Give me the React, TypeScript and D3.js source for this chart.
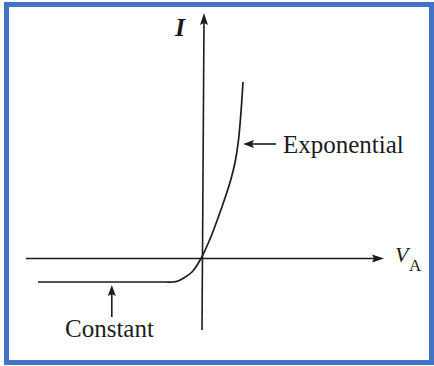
import React from "react";
import * as d3 from "d3";

// Diode characteristic: anode voltage V_A vs current I (arbitrary units)
const curveV = [-8.15, -1.8, -1.4, -1.15, -0.9, -0.45, 0, 0.45, 0.85, 1.2, 1.5, 1.725, 1.875, 2.0, 2.1];
const curveI = [-2.35, -2.35, -2.35, -2.25, -2.0, -1.35, 0, 1.95, 4.05, 6.05, 7.95, 9.85, 11.85, 14.65, 17.65];

// Axis extents in data units
const vAxisRange = [-8.75, 9.15];
const iAxisRange = [-7.15, 24.55];

// Annotation labels
const expLabel = "Exponential";
const constLabel = "Constant";
const expAnchor = { v: 2.05, i: 11.45 };
const constAnchor = { v: -4.46, i: -2.65 };

const W = 434;
const H = 366;

export default function App() {
  const x = d3.scaleLinear().domain([0, 1]).range([201, 221]);
  const y = d3.scaleLinear().domain([0, 1]).range([258.5, 248.5]);

  const pts: [number, number][] = curveV.map((v, k) => [x(v), y(curveI[k])]);
  const line = d3
    .line<[number, number]>()
    .x((d) => d[0])
    .y((d) => d[1])
    .curve(d3.curveCatmullRom.alpha(0.5));

  const ink = "#1c1c1c";
  const serif = "'Liberation Serif', 'DejaVu Serif', serif";

  const x0 = x(0);
  const y0 = y(0);
  const hx1 = x(vAxisRange[0]);
  const hx2 = x(vAxisRange[1]);
  const vy1 = y(iAxisRange[0]);
  const vy2 = y(iAxisRange[1]);

  const ex = x(expAnchor.v) + 1;
  const ey = y(expAnchor.i);
  const cx = x(constAnchor.v);
  const cy = y(constAnchor.i);

  return (
    <svg
      width={W}
      height={H}
      style={{ position: "absolute", left: 0, top: 0, background: "#ffffff" }}
    >
      {/* frame */}
      <rect x={6.5} y={4.5} width={425} height={358} fill="#ffffff" stroke="#4472C4" strokeWidth={5} />

      {/* horizontal axis */}
      <line x1={hx1} y1={y0} x2={hx2 - 8} y2={y0} stroke={ink} strokeWidth={1.6} />
      <path d={`M${hx2},${y0} L${hx2 - 12},${y0 - 4} L${hx2 - 10},${y0} L${hx2 - 12},${y0 + 4} Z`} fill={ink} />

      {/* vertical axis */}
      <line x1={x0 + 1} y1={vy1} x2={x0 + 3} y2={vy2 + 8} stroke={ink} strokeWidth={1.6} />
      <path d={`M${x0 + 3},${vy2} L${x0 - 1},${vy2 + 12} L${x0 + 3},${vy2 + 10} L${x0 + 7},${vy2 + 12} Z`} fill={ink} />

      {/* characteristic curve */}
      <path d={line(pts) || ""} fill="none" stroke={ink} strokeWidth={1.7} />

      {/* axis labels */}
      <text x={175} y={36} fontFamily={serif} fontStyle="italic" fontWeight="bold" fontSize={26} fill={ink}>
        I
      </text>
      <text x={395} y={262} fontFamily={serif} fontStyle="italic" fontSize={22} fill={ink}>
        V
      </text>
      <text x={409} y={271} fontFamily={serif} fontSize={17} fill={ink}>
        A
      </text>

      {/* exponential leader */}
      <line x1={ex + 8} y1={ey} x2={ex + 33} y2={ey} stroke={ink} strokeWidth={1.6} />
      <path d={`M${ex},${ey} L${ex + 11},${ey - 4} L${ex + 9},${ey} L${ex + 11},${ey + 4} Z`} fill={ink} />
      <text x={283} y={153} fontFamily={serif} fontSize={25} fill={ink}>
        {expLabel}
      </text>

      {/* constant leader */}
      <line x1={cx} y1={cy + 8} x2={cx} y2={cy + 32} stroke={ink} strokeWidth={1.6} />
      <path d={`M${cx},${cy} L${cx - 4},${cy + 11} L${cx},${cy + 9} L${cx + 4},${cy + 11} Z`} fill={ink} />
      <text x={65} y={337} fontFamily={serif} fontSize={25} fill={ink}>
        {constLabel}
      </text>
    </svg>
  );
}
